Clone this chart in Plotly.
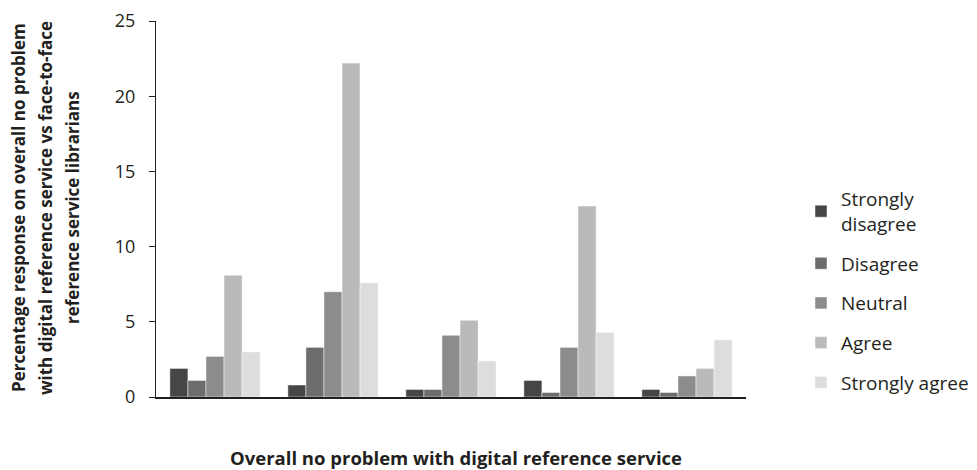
import plotly.graph_objects as go

groups = ["G1", "G2", "G3", "G4", "G5"]
series_names = ["Strongly<br>disagree", "Disagree", "Neutral", "Agree", "Strongly agree"]
strongly_disagree = [1.9, 0.8, 0.5, 1.1, 0.5]
disagree = [1.1, 3.3, 0.5, 0.3, 0.3]
neutral = [2.7, 7.0, 4.1, 3.3, 1.4]
agree = [8.1, 22.2, 5.1, 12.7, 1.9]
strongly_agree = [3.0, 7.6, 2.4, 4.3, 3.8]
y_ticks = [0, 5, 10, 15, 20, 25]
x_title = "Overall no problem with digital reference service"
y_title_lines = ["Percentage response on overall no problem",
                 "with digital reference service vs face-to-face",
                 "reference service librarians"]

values = [strongly_disagree, disagree, neutral, agree, strongly_agree]
colors = ["#464646", "#6d6d6e", "#8b8c8d", "#b9babb", "#dcdddf"]

FONT = "Open Sans, Noto Sans, sans-serif"
TXT = "#231f20"

# plot area in page pixels (page has an 8px body margin)
PX0, PX1, PY0, PY1 = 156, 746, 21, 397

fig = go.Figure()
for i, (name, vals, col) in enumerate(zip(series_names, values, colors)):
    fig.add_trace(go.Bar(
        x=groups, y=vals, name=name, legendgroup=f"g{i}",
        marker=dict(color=col, line=dict(color="rgba(255,255,255,0.6)", width=0.8)),
    ))

for i, line in enumerate(y_title_lines):
    fig.add_annotation(
        text=f"<b>{line}</b>", xref="paper", yref="paper",
        x=(18 + 27 * i - PX0) / (PX1 - PX0), y=(PY1 - 208) / (PY1 - PY0),
        xanchor="center", yanchor="middle",
        textangle=-90, showarrow=False,
        font=dict(size=17, family=FONT, color=TXT),
    )

fig.add_annotation(
    text=f"<b>{x_title}</b>", xref="paper", yref="paper",
    x=(456 - PX0) / (PX1 - PX0), y=(PY1 - 457) / (PY1 - PY0),
    xanchor="center", yanchor="middle", showarrow=False,
    font=dict(size=18.5, family=FONT, color=TXT),
)

fig.update_layout(
    width=977, height=470,
    barmode="group", bargap=0.235, bargroupgap=0,
    plot_bgcolor="white", paper_bgcolor="white",
    margin=dict(l=PX0 - 8, r=977 - (PX1 - 8), t=PY0 - 8, b=470 - (PY1 - 8)),
    font=dict(family=FONT, color=TXT, size=18),
    showlegend=True,
    legend=dict(
        xref="container", yref="container", x=793 / 977, y=1 - 172 / 470,
        xanchor="left", yanchor="top",
        font=dict(size=19, family=FONT, color=TXT),
        tracegroupgap=12, itemwidth=30,
        bgcolor="rgba(0,0,0,0)",
    ),
    xaxis=dict(
        automargin=False,
        showticklabels=False, ticks="", showgrid=False,
        showline=True, linecolor=TXT, linewidth=1.5,
    ),
    yaxis=dict(
        automargin=False,
        range=[0, 25], tickvals=y_ticks, ticktext=[str(v) for v in y_ticks],
        showgrid=False, zeroline=False,
        showline=True, linecolor=TXT, linewidth=1,
        ticks="outside", ticklen=6, tickcolor=TXT,
        ticklabelstandoff=10, ticklabeloverflow="allow",
        tickfont=dict(size=18, family=FONT, color=TXT),
    ),
)

fig.write_html("out.html")
